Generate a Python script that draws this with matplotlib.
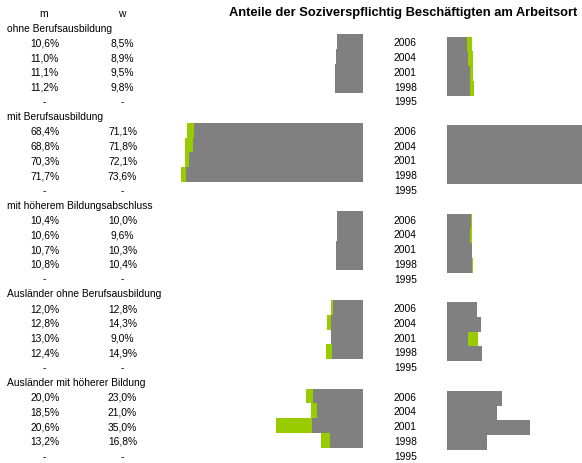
import numpy as np
import matplotlib.pyplot as plt
from matplotlib.transforms import Bbox

plt.rcParams['font.family'] = ['Liberation Sans', 'DejaVu Sans']

# Daten
gruppen = ["ohne Berufsausbildung", "mit Berufsausbildung",
           "mit höherem Bildungsabschluss", "Ausländer ohne Berufsausbildung",
           "Ausländer mit höherer Bildung"]
jahre = ["2006", "2004", "2001", "1998", "1995"]
m_werte = [[10.6, 11.0, 11.1, 11.2, np.nan],
           [68.4, 68.8, 70.3, 71.7, np.nan],
           [10.4, 10.6, 10.7, 10.8, np.nan],
           [12.0, 12.8, 13.0, 12.4, np.nan],
           [20.0, 18.5, 20.6, 13.2, np.nan]]
w_werte = [[8.5, 8.9, 9.5, 9.8, np.nan],
           [71.1, 71.8, 72.1, 73.6, np.nan],
           [10.0, 9.6, 10.3, 10.4, np.nan],
           [12.8, 14.3, 9.0, 14.9, np.nan],
           [23.0, 21.0, 35.0, 16.8, np.nan]]
titel = "Anteile der Soziverspflichtig Beschäftigten am Arbeitsort"

GRAU = "#808080"
GRUEN = "#99CC00"

# Layout in Pixeln
W, H = 582, 464
Y0, ROW_H = 13.9, 14.76
X_LINKS, X_RECHTS = 362.7, 447.0
PX_LINKS, PX_RECHTS = 2.47, 2.38
FS = 7.4

fig = plt.figure(figsize=(W / 100, H / 100), dpi=100)
base = fig.add_axes([0, 0, 1, 1])
base.set_xlim(0, W)
base.set_ylim(H, 0)
base.axis('off')

ylim = ((H - Y0) / ROW_H, -Y0 / ROW_H)

ax_l = fig.add_axes([0, 0, X_LINKS / W, 1])
ax_l.set_xlim(X_LINKS / PX_LINKS, 0)
ax_l.set_ylim(*ylim)
ax_l.axis('off')

ax_r = fig.add_axes([X_RECHTS / W, 0, (W - X_RECHTS) / W, 1])
ax_r.set_xlim(0, (W - X_RECHTS) / PX_RECHTS)
ax_r.set_ylim(*ylim)
ax_r.axis('off')


def fmt(v):
    if np.isnan(v):
        return "-"
    return f"{v:.1f}%".replace(".", ",")


def ypix(r):
    return Y0 + ROW_H * r


# Titel und Kopfzeile
base.text(229.3, 13.3, titel, fontsize=9.25, fontweight='bold',
          ha='left', va='center')
base.text(44, ypix(0), "m", fontsize=FS, ha='center', va='center')
base.text(122, ypix(0), "w", fontsize=FS, ha='center', va='center')

clip = Bbox.from_extents(0, 0, 161, H)

for g, name in enumerate(gruppen):
    r0 = 1 + 6 * g
    t = base.text(7.3, ypix(r0), name, fontsize=FS, ha='left', va='center')
    t.set_clip_box(clip)
    t.set_clip_on(True)
    m = np.array(m_werte[g])
    w = np.array(w_werte[g])
    rows = np.arange(r0 + 1, r0 + 6)
    for k, jahr in enumerate(jahre):
        y = ypix(rows[k])
        base.text(44.7, y, fmt(m[k]), fontsize=FS, ha='center', va='center')
        base.text(122.5, y, fmt(w[k]), fontsize=FS, ha='center', va='center')
        base.text(394, y, jahr, fontsize=FS, ha='left', va='center')
    ok = ~np.isnan(m)
    # links: m grau, Differenz zu w gruen
    ax_l.barh(rows[ok] - 0.05, m[ok], height=1.0, color=GRAU, linewidth=0)
    ax_l.barh(rows[ok] - 0.05, np.clip(w[ok] - m[ok], 0, None), left=m[ok],
              height=1.0, color=GRUEN, linewidth=0)
    # rechts: w grau, Differenz zu m gruen
    ax_r.barh(rows[ok] + 0.1, w[ok], height=1.0, color=GRAU, linewidth=0)
    ax_r.barh(rows[ok] + 0.1, np.clip(m[ok] - w[ok], 0, None), left=w[ok],
              height=1.0, color=GRUEN, linewidth=0)

fig.savefig("out.png", dpi=100)
